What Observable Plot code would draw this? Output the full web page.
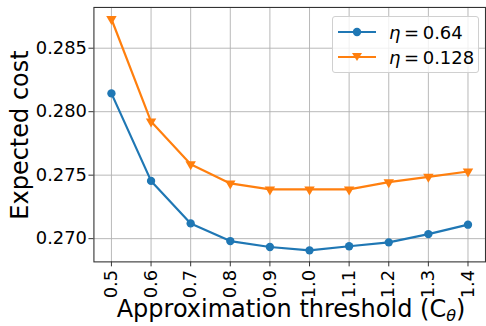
<!DOCTYPE html>
<html>
<head>
<meta charset="utf-8">
<script src="https://cdn.jsdelivr.net/npm/d3@7"></script>
<script src="https://cdn.jsdelivr.net/npm/@observablehq/plot@0.6"></script>
<style>
  html, body { margin: 0; padding: 0; background: #fff; }
  #wrap { position: relative; width: 486px; height: 326px; overflow: hidden; font-family: "DejaVu Sans", sans-serif; }
  #ylab { position: absolute; left: 20px; top: 135px; transform: translate(-50%, -50%) rotate(-90deg); font-size: 24px; white-space: nowrap; color: #000; line-height: normal; }
  #xlab { position: absolute; left: 291px; top: 295px; transform: translateX(-50%); font-size: 24px; white-space: nowrap; color: #000; line-height: normal; }
  #xlab sub { font-size: 16px; vertical-align: -4px; line-height: 0; font-style: italic; }
  #legend { position: absolute; left: 332px; top: 16px; width: 147px; height: 57px; background: rgba(255,255,255,0.8); border: 1px solid #d0d0d0; border-radius: 3px; box-sizing: border-box; }
  .li { position: absolute; left: 5px; height: 24px; display: flex; align-items: center; font-size: 18px; white-space: nowrap; }
  .li svg { margin-right: 13px; }
  .li i { font-style: italic; }
</style>
</head>
<body>
<div id="wrap"></div>
<script>
const thresholds = [0.5, 0.6, 0.7, 0.8, 0.9, 1.0, 1.1, 1.2, 1.3, 1.4];
const costEta064 = [0.28144, 0.27455, 0.2712, 0.26981, 0.26934, 0.26908, 0.2694, 0.26971, 0.27036, 0.2711];
const costEta0128 = [0.2873, 0.27922, 0.27586, 0.27435, 0.27388, 0.27388, 0.27388, 0.27445, 0.27487, 0.27529];
const seriesNames = ["η = 0.64", "η = 0.128"];
const seriesColors = ["#1f77b4", "#ff7f0e"];
const yTicks = [0.270, 0.275, 0.280, 0.285];
const xTicks = thresholds;

const blue = thresholds.map((x, i) => ({x, y: costEta064[i]}));
const orange = thresholds.map((x, i) => ({x, y: costEta0128[i]}));

const chart = Plot.plot({
  width: 489,
  height: 326,
  marginLeft: 94,
  marginRight: 1,
  marginTop: 7,
  marginBottom: 63,
  style: { fontFamily: "DejaVu Sans, sans-serif", background: "white", color: "#000" },
  x: { type: "linear", domain: [0.4558, 1.4442] },
  y: { type: "linear", domain: [0.26817, 0.28821] },
  marks: [
    Plot.gridX(xTicks, { stroke: "#b0b0b0", strokeOpacity: 1, strokeWidth: 0.9 }),
    Plot.gridY(yTicks, { stroke: "#b0b0b0", strokeOpacity: 1, strokeWidth: 0.9 }),
    Plot.line(blue, { x: "x", y: "y", stroke: seriesColors[0], strokeWidth: 2.2 }),
    Plot.line(orange, { x: "x", y: "y", stroke: seriesColors[1], strokeWidth: 2.2 }),
    Plot.dot(blue, { x: "x", y: "y", fill: seriesColors[0], r: 4.2, stroke: null }),
    Plot.dot(orange, { x: "x", y: "y", fill: seriesColors[1], symbol: "triangle", rotate: 180, r: 3.9, stroke: null }),
    Plot.axisY({ ticks: yTicks, tickFormat: ".3f", fontSize: 18, tickSize: 5, tickPadding: 2, label: null, stroke: "#333" }),
    Plot.axisX({ ticks: xTicks, tickFormat: ".1f", tickRotate: -90, fontSize: 18, tickSize: 5, tickPadding: 3, label: null, stroke: "#333" }),
    Plot.frame({ stroke: "#333", strokeWidth: 1.1 })
  ]
});

const wrap = document.getElementById("wrap");
wrap.appendChild(chart);

const ylab = document.createElement("div");
ylab.id = "ylab"; ylab.textContent = "Expected cost";
wrap.appendChild(ylab);

const xlab = document.createElement("div");
xlab.id = "xlab"; xlab.innerHTML = "Approximation threshold (C<sub>θ</sub>)";
wrap.appendChild(xlab);

const legend = document.createElement("div");
legend.id = "legend";
const tri = "M0,4 L-5,-4 L5,-4 Z";
seriesNames.forEach((name, i) => {
  const row = document.createElement("div");
  row.className = "li";
  row.style.top = (i === 0 ? 3 : 28) + "px";
  const marker = i === 0
    ? `<circle cx="19" cy="12" r="4.2" fill="${seriesColors[i]}"/>`
    : `<path transform="translate(19,12)" d="${tri}" fill="${seriesColors[i]}"/>`;
  const parts = name.split(" = ");
  row.innerHTML = `<svg width="38" height="24"><line x1="0" x2="38" y1="12" y2="12" stroke="${seriesColors[i]}" stroke-width="2.2"/>${marker}</svg><span><i>${parts[0]}</i>\u2009=\u2009${parts[1]}</span>`;
  legend.appendChild(row);
});
wrap.appendChild(legend);
</script>
</body>
</html>
